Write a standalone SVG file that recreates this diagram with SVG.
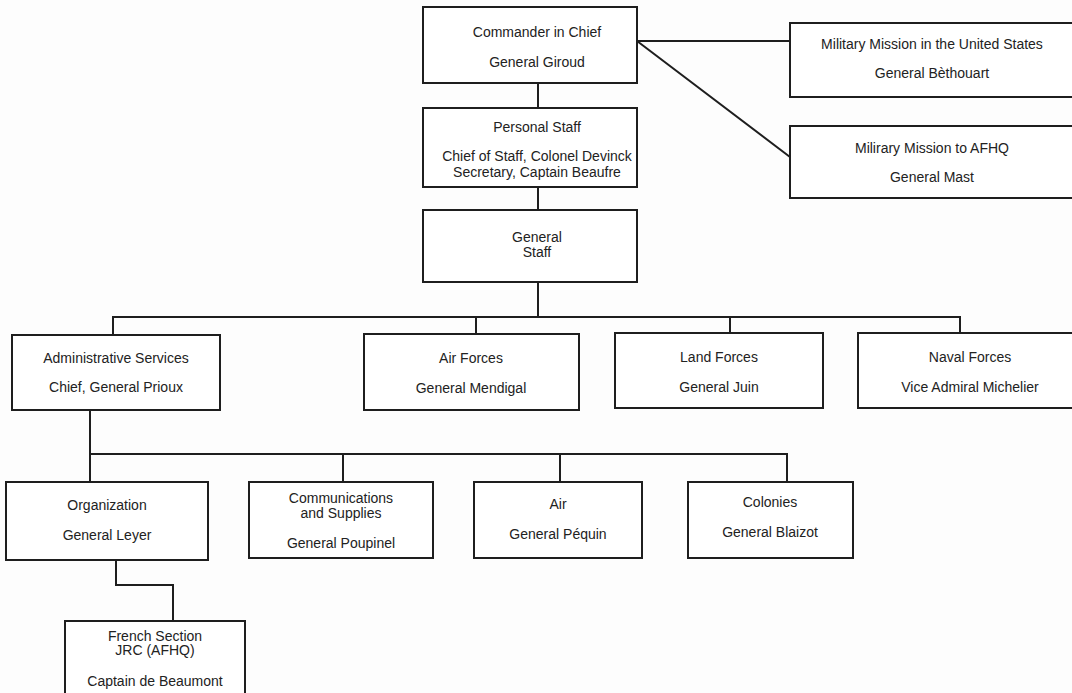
<svg xmlns="http://www.w3.org/2000/svg" width="1072" height="693" viewBox="0 0 1072 693">
<style>
.box{fill:#fff;stroke:#1e1e1e;stroke-width:2}
.ln{fill:none;stroke:#1e1e1e;stroke-width:2}
text{font-family:"Liberation Sans",Arial,sans-serif;font-size:14px;fill:#222;text-anchor:middle}
</style>
<rect width="1072" height="693" fill="#fdfdfd"/>
<g id="connectors">
<path class="ln" d="M538 83V108M538 187V210M538 282V317"/>
<path class="ln" d="M113 335V317H960V333M476 317V334M730 317V333"/>
<path class="ln" d="M637 41H790M637 41L790 157"/>
<path class="ln" d="M90 410V482M90 454H787V482M343 454V482M560 454V482"/>
<path class="ln" d="M116 560V585H173V621"/>
</g>
<g id="commander"><rect class="box" x="423" y="7" width="214" height="76"/><text x="537" y="37">Commander in Chief</text><text x="537" y="67">General Giroud</text></g>
<g id="personal-staff"><rect class="box" x="423" y="108" width="214" height="79"/><text x="537" y="132">Personal Staff</text><text x="537" y="161">Chief of Staff, Colonel Devinck</text><text x="537" y="177">Secretary, Captain Beaufre</text></g>
<g id="general-staff"><rect class="box" x="423" y="210" width="214" height="72"/><text x="537" y="242">General</text><text x="537" y="257">Staff</text></g>
<g id="mission-us"><rect class="box" x="790" y="23" width="290" height="74"/><text x="932" y="49">Military Mission in the United States</text><text x="932" y="78">General Bèthouart</text></g>
<g id="mission-afhq"><rect class="box" x="790" y="126" width="290" height="72"/><text x="932" y="153">Milirary Mission to AFHQ</text><text x="932" y="182">General Mast</text></g>
<g id="admin"><rect class="box" x="12" y="335" width="208" height="75"/><text x="116" y="363">Administrative Services</text><text x="116" y="392">Chief, General Prioux</text></g>
<g id="air-forces"><rect class="box" x="364" y="334" width="215" height="76"/><text x="471" y="363">Air Forces</text><text x="471" y="393">General Mendigal</text></g>
<g id="land-forces"><rect class="box" x="615" y="333" width="208" height="75"/><text x="719" y="362">Land Forces</text><text x="719" y="392">General Juin</text></g>
<g id="naval-forces"><rect class="box" x="858" y="333" width="230" height="75"/><text x="970" y="362">Naval Forces</text><text x="970" y="392">Vice Admiral Michelier</text></g>
<g id="organization"><rect class="box" x="6" y="482" width="202" height="78"/><text x="107" y="510">Organization</text><text x="107" y="540">General Leyer</text></g>
<g id="communications"><rect class="box" x="249" y="482" width="184" height="76"/><text x="341" y="503">Communications</text><text x="341" y="518">and Supplies</text><text x="341" y="548">General Poupinel</text></g>
<g id="air"><rect class="box" x="474" y="482" width="168" height="76"/><text x="558" y="509">Air</text><text x="558" y="539">General Péquin</text></g>
<g id="colonies"><rect class="box" x="688" y="482" width="165" height="76"/><text x="770" y="507">Colonies</text><text x="770" y="537">General Blaizot</text></g>
<g id="french-section"><rect class="box" x="65" y="621" width="180" height="85"/><text x="155" y="641">French Section</text><text x="155" y="655">JRC (AFHQ)</text><text x="155" y="686">Captain de Beaumont</text></g>
</svg>
